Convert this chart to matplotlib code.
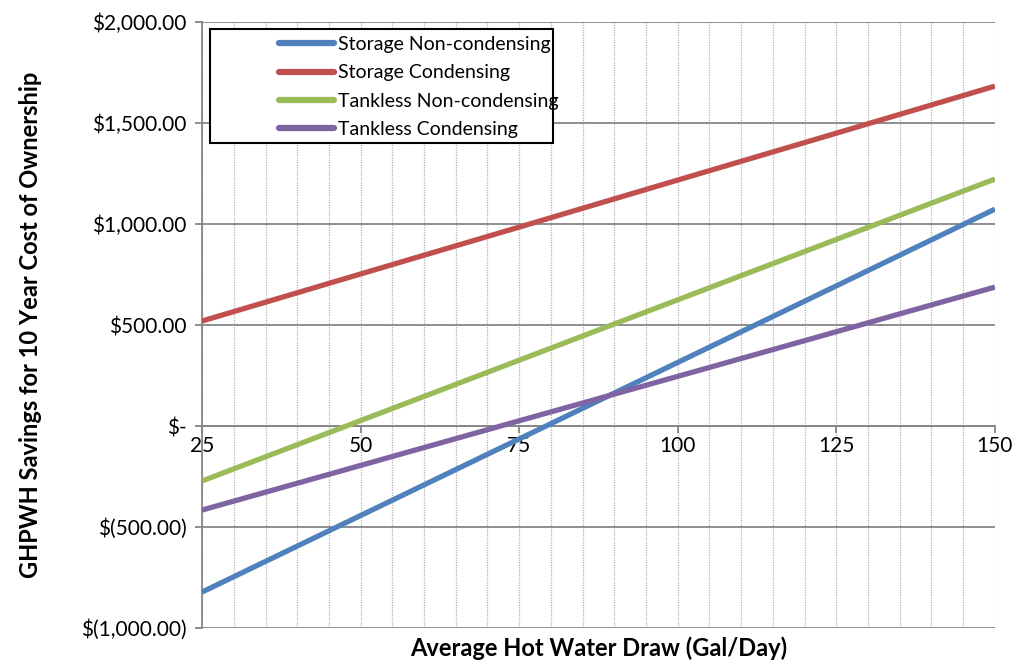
import matplotlib.pyplot as plt
from matplotlib.patches import Rectangle
from matplotlib.ticker import MultipleLocator, FuncFormatter

# hot water draw (gal/day) and 10-year savings for each baseline heater
draw = [25, 50, 75, 100, 125, 150]
storage_noncond = [-822, -443, -64, 315, 694, 1074]
storage_cond = [520, 753, 985, 1218, 1450, 1683]
tankless_noncond = [-272, 27, 326, 625, 924, 1223]
tankless_cond = [-416, -195, 26, 246, 467, 688]

series = [
    ('Storage Non-condensing', storage_noncond, '#4F81BD'),
    ('Storage Condensing', storage_cond, '#C0504D'),
    ('Tankless Non-condensing', tankless_noncond, '#9BBB59'),
    ('Tankless Condensing', tankless_cond, '#8064A2'),
]

plt.rcParams['font.family'] = ['Lato', 'DejaVu Sans']

def money(v, pos):
    if v == 0:
        return '$-'
    if v < 0:
        return '$({:,.2f})'.format(-v)
    return '${:,.2f}'.format(v)

fig = plt.figure(figsize=(10.31, 6.6), dpi=100)
ax = fig.add_axes([0.196, 0.0485, 0.769, 0.918])

for name, vals, col in series:
    ax.plot(draw, vals, color=col, lw=3.8, label=name, solid_capstyle='butt', zorder=3)

ax.set_xlim(25, 150)
ax.set_ylim(-1000, 2000)
ax.yaxis.set_major_locator(MultipleLocator(500))
ax.yaxis.set_major_formatter(FuncFormatter(money))
ax.xaxis.set_major_locator(MultipleLocator(25))
ax.xaxis.set_minor_locator(MultipleLocator(5))

# gridlines: solid horizontal, dotted vertical every 5 gal
ax.grid(axis='y', which='major', color='#868686', lw=1.3, ls='-', zorder=1)
ax.grid(axis='x', which='both', color='#B0B0B0', lw=0.9, ls=(0, (1, 1)), zorder=1)

for s in ['top', 'right']:
    ax.spines[s].set_visible(False)
ax.spines['left'].set_color('#868686')
ax.spines['left'].set_linewidth(1.3)
ax.spines['bottom'].set_position(('data', 0))
ax.spines['bottom'].set_color('#868686')
ax.spines['bottom'].set_linewidth(1.3)

ax.tick_params(axis='y', which='major', length=5, width=1.3, color='#868686',
               labelsize=15, pad=6)
ax.tick_params(axis='x', which='major', length=5, width=1.3, color='#868686',
               labelsize=15, pad=2)
ax.tick_params(axis='x', which='minor', length=0)

ax.set_xlabel('Average Hot Water Draw (Gal/Day)', fontsize=17, fontweight='bold',
              va='center')
ax.xaxis.set_label_coords(0.5, -0.033)
ax.set_ylabel('GHPWH Savings for 10 Year Cost of Ownership', fontsize=17,
              fontweight='bold', va='center')
ax.yaxis.set_label_coords(-0.217, 0.5)

# legend box drawn separately so the entries sit inset like the spreadsheet legend
box = Rectangle((0.010, 0.800), 0.433, 0.188, transform=ax.transAxes,
                facecolor='white', edgecolor='black', lw=1.5, zorder=4)
ax.add_patch(box)
leg = ax.legend(loc='upper left', bbox_to_anchor=(0.097, 0.977), fontsize=14,
                frameon=False, handlelength=2.85, borderpad=0,
                labelspacing=0.58, handletextpad=0.2, borderaxespad=0)
for h in leg.legend_handles:
    h.set_linewidth(4.5)
    h.set_solid_capstyle('round')
leg.set_zorder(5)

fig.savefig('out.png', dpi=100)
